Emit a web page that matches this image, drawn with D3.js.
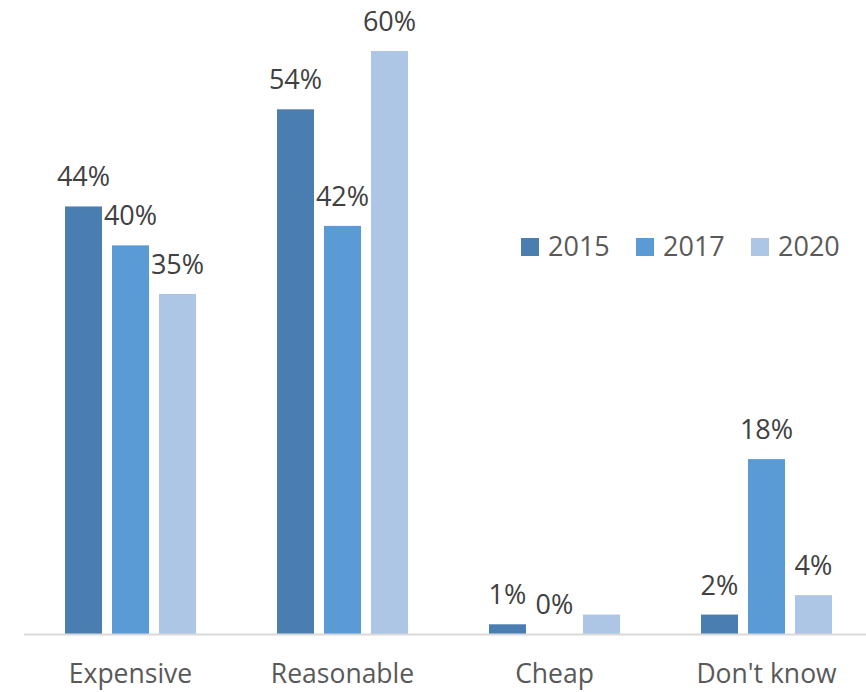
<!DOCTYPE html>
<html>
<head>
<meta charset="utf-8">
<script src="https://cdn.jsdelivr.net/npm/d3@7/dist/d3.min.js"></script>
<style>
  html, body { margin: 0; padding: 0; background: #ffffff; }
  svg { display: block; font-family: "Open Sans", "Liberation Sans", sans-serif; }
</style>
</head>
<body>
<svg id="chart" width="866" height="692"></svg>
<script>
// Survey answers by year (percent)
const categories = ["Expensive", "Reasonable", "Cheap", "Don't know"];
const years = ["2015", "2017", "2020"];
const values2015 = [44, 54, 1, 2];
const values2017 = [40, 42, 0, 18];
const values2020 = [35, 60, 2, 4];
// Whether a value label is printed above each bar
const labelled2015 = [true, true, true, true];
const labelled2017 = [true, true, true, true];
const labelled2020 = [true, true, false, true];
const colors = ["#4a7eb0", "#5b9bd5", "#adc6e6"];

const seriesValues = [values2015, values2017, values2020];
const seriesLabelled = [labelled2015, labelled2017, labelled2020];

const rows = [];
categories.forEach((cat, ci) => {
  years.forEach((yr, si) => {
    rows.push({ cat, yr, si, value: seriesValues[si][ci], labelled: seriesLabelled[si][ci] });
  });
});

const svg = d3.select("#chart");
const baseY = 634;

const x0 = d3.scaleBand().domain(categories).range([24.5, 872.5]).paddingInner(0).paddingOuter(0);
const x1 = d3.scaleBand().domain(years).range([40.5, 171.5]).paddingInner(10 / 47).paddingOuter(0);
const y = d3.scaleLinear().domain([0, 60]).range([baseY, 51]);
const color = d3.scaleOrdinal().domain(years).range(colors);

// bars
svg.append("g").selectAll("rect")
  .data(rows)
  .join("rect")
  .attr("x", d => x0(d.cat) + x1(d.yr))
  .attr("y", d => y(d.value))
  .attr("width", x1.bandwidth())
  .attr("height", d => baseY - y(d.value))
  .attr("fill", d => color(d.yr));

// category axis line
svg.append("line")
  .attr("x1", 24).attr("x2", 866)
  .attr("y1", baseY + 0.5).attr("y2", baseY + 0.5)
  .attr("stroke", "#d9d9d9").attr("stroke-width", 2);

// value labels
svg.append("g").selectAll("text")
  .data(rows.filter(d => d.labelled))
  .join("text")
  .attr("x", d => x0(d.cat) + x1(d.yr) + x1.bandwidth() / 2)
  .attr("y", d => y(d.value) - 20)
  .attr("text-anchor", "middle")
  .attr("font-size", 27)
  .attr("fill", "#404040")
  .text(d => d.value + "%");

// category labels
const xAxis = d3.axisBottom(x0).tickSize(0).tickPadding(0);
const gx = svg.append("g").attr("transform", `translate(0,${baseY})`).call(xAxis);
gx.select(".domain").remove();
gx.selectAll("text")
  .attr("y", 49).attr("dy", 0)
  .attr("font-size", 26.5)
  .attr("font-family", "\"Open Sans\", \"Liberation Sans\", sans-serif")
  .attr("fill", "#595959");

// legend
const legendX = [521, 636, 751];
const legend = svg.append("g").selectAll("g")
  .data(years)
  .join("g")
  .attr("transform", (d, i) => `translate(${legendX[i]},238)`);
legend.append("rect")
  .attr("width", 18).attr("height", 18)
  .attr("fill", d => color(d));
legend.append("text")
  .attr("x", 27).attr("y", 18)
  .attr("font-size", 27)
  .attr("fill", "#595959")
  .text(d => d);
</script>
</body>
</html>
